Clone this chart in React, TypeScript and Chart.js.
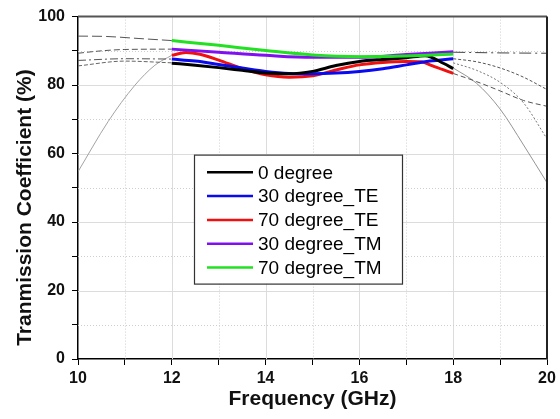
import React, { useEffect, useRef } from 'react';
import { Chart, registerables } from 'chart.js';

Chart.register(...registerables);

// ---------- data ----------
const seriesLabels = ['0 degree', '30 degree_TE', '70 degree_TE', '30 degree_TM', '70 degree_TM'];
const seriesColors = ['#000000', '#0a0af0', '#f01010', '#8010f0', '#22e022'];

const freq0 = [12, 12.5, 13, 13.5, 14, 14.5, 15, 15.5, 16, 16.5, 17, 17.4, 17.8, 18];
const val0 = [86.4, 85.8, 85.1, 84.3, 83.5, 83.3, 84.0, 85.7, 86.9, 87.5, 88.0, 88.6, 86.3, 84.8];

const freq30TE = [12, 12.5, 13, 13.5, 14, 14.5, 15, 15.5, 16, 16.5, 17, 17.5, 18];
const val30TE = [87.6, 87.0, 86.0, 85.0, 84.0, 83.4, 83.3, 83.5, 84.0, 84.8, 85.9, 87.0, 87.7];

const freq70TE = [12, 12.3, 12.6, 13, 13.5, 14, 14.5, 15, 15.5, 16, 16.5, 17, 17.3, 17.6, 18];
const val70TE = [88.7, 89.5, 89.0, 87.3, 84.8, 83.0, 82.3, 82.7, 84.4, 85.9, 86.6, 86.9, 86.8, 85.4, 83.4];

const freq30TM = [12, 13, 14, 15, 16, 17, 18];
const val30TM = [90.5, 89.6, 88.7, 88.1, 88.1, 88.9, 89.7];

const freq70TM = [12, 13, 14, 15, 16, 17, 18];
const val70TM = [93.0, 91.6, 90.1, 88.8, 88.3, 88.5, 89.1];

// thin grey out-of-band curves
const greyFreqA = [10, 10.6, 11.3, 12];
const greyValA = [94.3, 94.2, 93.6, 93.0];
const greyFreqB = [10, 10.5, 11, 12];
const greyValB = [89.3, 90.0, 90.4, 90.5];
const greyFreqC = [10, 11, 12];
const greyValC = [87.2, 87.7, 87.6];
const greyFreqD = [10, 11, 12];
const greyValD = [85.6, 87.0, 86.5];
const greyFreqE = [10, 10.64, 11.21, 11.64, 12];
const greyValE = [54.7, 69.3, 79.9, 85.8, 88.7];
const greyFreqF = [18, 19, 20];
const greyValF = [89.6, 89.4, 89.3];
const greyFreqG = [18, 18.5, 19, 19.5, 20];
const greyValG = [87.7, 86.8, 85.0, 82.3, 78.7];
const greyFreqH = [18, 18.5, 19, 19.5, 20];
const greyValH = [83.4, 81.0, 78.3, 75.5, 73.8];
const greyFreqI = [18, 18.5, 19, 19.5, 20];
const greyValI = [86.5, 84.3, 80.8, 74.8, 64.3];
const greyFreqJ = [18, 18.5, 19, 19.5, 20];
const greyValJ = [85.0, 80.5, 73.0, 62.5, 51.5];

const xTickLabels = ['10', '12', '14', '16', '18', '20'];
const yTickLabels = ['0', '20', '40', '60', '80', '100'];

const xTitle = 'Frequency (GHz)';
const yTitle = 'Tranmission Coefficient (%)';

const FONT = '"Liberation Sans", Arial, Helvetica, sans-serif';

const zip = (xs: number[], ys: number[]) => xs.map((x, i) => ({ x, y: ys[i] }));

const gridPlugin = {
  id: 'customGrid',
  beforeDatasetsDraw(chart: any) {
    const { ctx, chartArea, scales } = chart;
    const xs = scales.x;
    const ys = scales.y;
    ctx.save();
    ctx.lineWidth = 1;
    xs.ticks.forEach((t: any) => {
      if (t.value <= xs.min || t.value >= xs.max) return;
      const px = Math.round(xs.getPixelForValue(t.value)) + 0.5;
      const major = t.value % 2 === 0;
      ctx.strokeStyle = major ? '#dcdcdc' : '#cfcfcf';
      ctx.setLineDash(major ? [] : [1, 2]);
      ctx.beginPath();
      ctx.moveTo(px, chartArea.top);
      ctx.lineTo(px, chartArea.bottom);
      ctx.stroke();
    });
    ys.ticks.forEach((t: any) => {
      if (t.value <= ys.min || t.value >= ys.max) return;
      const py = Math.round(ys.getPixelForValue(t.value)) + 0.5;
      const major = t.value % 20 === 0;
      ctx.strokeStyle = major ? '#dcdcdc' : '#cfcfcf';
      ctx.setLineDash(major ? [] : [1, 2]);
      ctx.beginPath();
      ctx.moveTo(chartArea.left, py);
      ctx.lineTo(chartArea.right, py);
      ctx.stroke();
    });
    ctx.restore();
  },
  afterDatasetsDraw(chart: any) {
    const { ctx, chartArea } = chart;
    ctx.save();
    ctx.setLineDash([]);
    ctx.strokeStyle = '#555';
    ctx.lineWidth = 2;
    ctx.beginPath();
    ctx.moveTo(chartArea.left, chartArea.top);
    ctx.lineTo(chartArea.right, chartArea.top);
    ctx.stroke();
    ctx.strokeStyle = '#222';
    ctx.beginPath();
    ctx.moveTo(chartArea.right, chartArea.top);
    ctx.lineTo(chartArea.right, chartArea.bottom);
    ctx.stroke();
    ctx.restore();
  },
};

const legendPlugin = {
  id: 'boxLegend',
  afterDraw(chart: any) {
    const { ctx, chartArea } = chart;
    const x0 = chartArea.left + 116;
    const y0 = chartArea.top + 138;
    const w = 208;
    const h = 129;
    ctx.save();
    ctx.fillStyle = '#ffffff';
    ctx.fillRect(x0, y0, w, h);
    ctx.strokeStyle = '#333';
    ctx.lineWidth = 1.2;
    ctx.strokeRect(x0 + 0.5, y0 + 0.5, w, h);
    ctx.font = `19px ${FONT}`;
    ctx.textBaseline = 'middle';
    ctx.textAlign = 'left';
    seriesLabels.forEach((lab, i) => {
      const y = y0 + 17.7 + i * 23.8;
      ctx.strokeStyle = seriesColors[i];
      ctx.lineWidth = 2.5;
      ctx.beginPath();
      ctx.moveTo(x0 + 13, y);
      ctx.lineTo(x0 + 59, y);
      ctx.stroke();
      ctx.fillStyle = '#000';
      ctx.fillText(lab, x0 + 64, y + 1);
    });
    // y axis title
    ctx.save();
    ctx.translate(25, chartArea.top + 191);
    ctx.rotate(-Math.PI / 2);
    ctx.font = `bold 21px ${FONT}`;
    ctx.textAlign = 'center';
    ctx.textBaseline = 'middle';
    ctx.fillStyle = '#111';
    ctx.fillText(yTitle, 0, 0);
    ctx.restore();
    ctx.restore();
  },
};

export default function App() {
  const ref = useRef<HTMLCanvasElement | null>(null);

  useEffect(() => {
    if (!ref.current) return;
    const main = (label: string, xs: number[], ys: number[], i: number) => ({
      label,
      data: zip(xs, ys),
      borderColor: seriesColors[i],
      backgroundColor: seriesColors[i],
      borderWidth: 3,
      pointRadius: 0,
      cubicInterpolationMode: 'monotone' as const,
      fill: false,
    });
    const grey = (xs: number[], ys: number[], dash: number[], color = '#555', width = 1) => ({
      label: '',
      data: zip(xs, ys),
      borderColor: color,
      borderWidth: width,
      borderDash: dash,
      pointRadius: 0,
      cubicInterpolationMode: 'monotone' as const,
      fill: false,
    });

    const chart = new Chart(ref.current, {
      type: 'line',
      data: {
        datasets: [
          main(seriesLabels[4], freq70TM, val70TM, 4),
          main(seriesLabels[3], freq30TM, val30TM, 3),
          main(seriesLabels[0], freq0, val0, 0),
          main(seriesLabels[1], freq30TE, val30TE, 1),
          main(seriesLabels[2], freq70TE, val70TE, 2),
          grey(greyFreqA, greyValA, [10, 4], '#555'),
          grey(greyFreqB, greyValB, [6, 3], '#555'),
          grey(greyFreqC, greyValC, [8, 3, 2, 3], '#555'),
          grey(greyFreqD, greyValD, [4, 2], '#666'),
          grey(greyFreqE, greyValE, [], '#999', 0.9),
          grey(greyFreqF, greyValF, [12, 4, 2, 4], '#444'),
          grey(greyFreqG, greyValG, [3, 2], '#555'),
          grey(greyFreqH, greyValH, [5, 3], '#555'),
          grey(greyFreqI, greyValI, [2, 2], '#777'),
          grey(greyFreqJ, greyValJ, [], '#888', 0.9),
        ],
      },
      options: {
        responsive: false,
        animation: false,
        devicePixelRatio: 1,
        layout: { padding: { top: 16, right: 13, left: 0, bottom: 0 } },
        plugins: { legend: { display: false }, tooltip: { enabled: false } },
        scales: {
          x: {
            type: 'linear',
            min: 10,
            max: 20,
            afterFit: (s: any) => { s.height = 60; },
            ticks: {
              stepSize: 1,
              autoSkip: false,
              maxRotation: 0,
              padding: 4,
              color: '#111',
              font: { family: FONT, size: 16, weight: 'bold' },
              callback: (v: any) => {
                const s = String(v);
                return xTickLabels.includes(s) ? s : '';
              },
            },
            grid: { drawOnChartArea: false, drawTicks: true, tickLength: 6, tickColor: '#000', tickWidth: 1 },
            border: { display: true, color: '#000', width: 1.5 },
            title: {
              display: true,
              text: xTitle,
              color: '#111',
              font: { family: FONT, size: 21, weight: 'bold' },
              padding: { top: 0, bottom: 7 },
            },
          },
          y: {
            type: 'linear',
            min: 0,
            max: 100,
            afterFit: (s: any) => { s.width = 78; },
            ticks: {
              stepSize: 10,
              autoSkip: false,
              padding: 7,
              color: '#111',
              font: { family: FONT, size: 16, weight: 'bold' },
              callback: (v: any) => {
                const s = String(v);
                return yTickLabels.includes(s) ? s : '';
              },
            },
            grid: { drawOnChartArea: false, drawTicks: true, tickLength: 6, tickColor: '#000', tickWidth: 1 },
            border: { display: true, color: '#000', width: 1.5 },
            title: { display: false },
          },
        },
      },
      plugins: [gridPlugin, legendPlugin],
    });
    return () => chart.destroy();
  }, []);

  return (
    <canvas
      ref={ref}
      width={560}
      height={419}
      style={{ position: 'fixed', left: 0, top: 0, width: 560, height: 419, background: '#fff' }}
    />
  );
}
